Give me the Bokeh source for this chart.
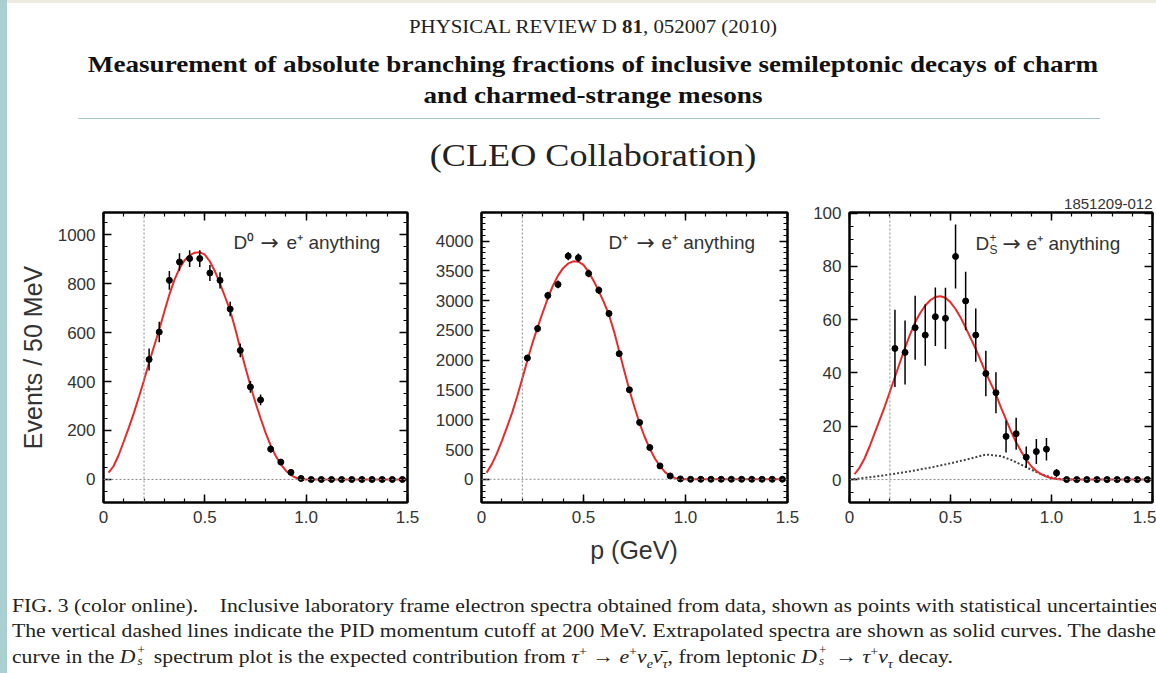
from bokeh.plotting import figure
from bokeh.models import (Range1d, SingleIntervalTicker, LinearAxis, Span, Label, Div,
                          CustomJSTickFormatter)
from bokeh.layouts import row, column
from bokeh.embed import file_html
from bokeh.resources import INLINE

# ---------------- data ----------------
P_BINS = [0.225, 0.275, 0.325, 0.375, 0.425, 0.475, 0.525, 0.575, 0.625, 0.675,
          0.725, 0.775, 0.825, 0.875, 0.925, 0.975, 1.025, 1.075, 1.125, 1.175,
          1.225, 1.275, 1.325, 1.375, 1.425, 1.475]

D0_COUNTS = [490, 602, 813, 888, 902, 902, 843, 813, 696, 527, 378, 325, 124, 71, 29, 4,
             0, 0, 0, 0, 0, 0, 0, 0, 0, 0]
D0_ERRORS = [45, 42, 38, 36, 34, 34, 33, 33, 30, 28, 24, 22, 15, 12, 8, 4,
             2, 2, 2, 2, 2, 2, 2, 2, 2, 2]

DP_COUNTS = [2036, 2530, 3086, 3271, 3748, 3720, 3456, 3175, 2783, 2109, 1503, 954, 533, 224, 56, 6,
             0, 0, 0, 0, 0, 0, 0, 0, 0, 0]
DP_ERRORS = [55, 60, 65, 65, 70, 70, 65, 62, 58, 52, 45, 38, 30, 22, 12, 5,
             2, 2, 2, 2, 2, 2, 2, 2, 2, 2]

DS_COUNTS = [49.2, 47.7, 57.0, 54.2, 61.1, 60.5, 83.7, 67.0, 54.2, 39.8, 32.6, 16.2, 17.2, 8.4, 10.5, 11.4,
             2.5, 0, 0, 0, 0, 0, 0, 0, 0, 0]
DS_ERRORS = [14.5, 12.0, 12.0, 11.5, 11.0, 11.5, 12.0, 11.0, 10.0, 8.5, 7.7, 6.0, 6.0, 4.0, 4.7, 4.2,
             1.5, 0.2, 0.2, 0.2, 0.2, 0.2, 0.2, 0.2, 0.2, 0.2]

CURVE_P = [0.025, 0.05, 0.075, 0.1, 0.125, 0.15, 0.175, 0.2, 0.225, 0.25, 0.275, 0.3, 0.325,
           0.35, 0.375, 0.4, 0.425, 0.45, 0.475, 0.5, 0.525, 0.55, 0.575, 0.6, 0.625, 0.65,
           0.675, 0.7, 0.725, 0.75, 0.775, 0.8, 0.825, 0.85, 0.875, 0.9, 0.925, 0.95, 0.975,
           1.0, 1.025, 1.05, 1.5]
D0_CURVE = [28, 55, 100, 155, 212, 272, 338, 405, 478, 545, 612, 685, 755, 815, 862, 895, 915,
            926, 928, 918, 890, 850, 800, 745, 690, 615, 535, 458, 383, 313, 250, 190, 138, 96,
            62, 36, 18, 7, 2, 0, 0, 0, 0]
DP_CURVE = [110, 250, 430, 645, 875, 1115, 1395, 1690, 2000, 2290, 2550, 2800, 3040, 3250, 3420,
            3545, 3625, 3660, 3655, 3600, 3480, 3330, 3160, 2970, 2760, 2480, 2150, 1820, 1500,
            1210, 940, 710, 515, 350, 220, 120, 55, 18, 4, 0, 0, 0, 0]
DS_CURVE = [2, 4.5, 8, 12.5, 17.5, 22.5, 27.5, 33, 38.5, 44, 49.5, 54.5, 59, 62.5, 65.3, 67.3,
            68.5, 68.8, 68.2, 66.5, 64, 60.8, 57, 53, 49, 44.5, 40, 36, 32, 27, 22.5, 18, 14,
            10.5, 7.5, 5, 3.2, 2, 1.1, 0.5, 0.2, 0, 0]

TAU_P = [0.0, 0.1, 0.2, 0.3, 0.4, 0.5, 0.6, 0.675, 0.75, 0.8, 0.85, 0.9, 0.95, 1.0, 1.05, 1.1]
TAU_CURVE = [0, 0.9, 1.9, 3.1, 4.5, 6.1, 7.9, 9.4, 8.8, 7.4, 5.6, 3.7, 2.0, 0.8, 0.15, 0]

PID_CUTOFF = 0.2
X_TICK_LABELS = ["0", "0.5", "1.0", "1.5"]

HEADER_JOURNAL = 'PHYSICAL REVIEW D <b>81</b>, 052007 (2010)'
HEADER_TITLE_1 = "Measurement of absolute branching fractions of inclusive semileptonic decays of charm"
HEADER_TITLE_2 = "and charmed-strange mesons"
HEADER_COLLAB = "(CLEO Collaboration)"
FIG_ID = "1851209-012"
Y_LABEL = "Events / 50 MeV"
X_LABEL = "p (GeV)"
ARROW = "→"
DECAY_SUFFIX = "e⁺ anything"

SANS = "Liberation Sans"
SERIF = "Liberation Serif"
TXT = "#333333"
STRETCH = "transform:scaleX(1.13);"


def make_panel(width, left, right, yrange, yint, yminor):
    p = figure(width=width, height=353, x_range=Range1d(0, 1.5), y_range=Range1d(*yrange),
               output_backend="svg", toolbar_location=None,
               min_border_left=left, min_border_right=right, min_border_top=30, min_border_bottom=33)
    p.xgrid.visible = False
    p.ygrid.visible = False
    p.outline_line_color = "black"
    p.outline_line_width = 2
    p.background_fill_color = "white"
    p.border_fill_color = "white"
    xb = p.below[0]
    yl = p.left[0]
    xt = SingleIntervalTicker(interval=0.5, num_minor_ticks=5)
    yt = SingleIntervalTicker(interval=yint, num_minor_ticks=yminor)
    xb.ticker = xt
    yl.ticker = yt
    xb.formatter = CustomJSTickFormatter(
        args=dict(labels=X_TICK_LABELS),
        code="return labels[Math.round(tick / 0.5)];")
    blank = CustomJSTickFormatter(code="return '';")
    top = LinearAxis(ticker=xt, formatter=blank)
    rgt = LinearAxis(ticker=yt, formatter=blank)
    p.add_layout(top, "above")
    p.add_layout(rgt, "right")
    for ax in (xb, yl, top, rgt):
        ax.axis_line_color = "black"
        ax.axis_line_width = 2
        ax.major_tick_in = 8
        ax.major_tick_out = 0
        ax.minor_tick_in = 4
        ax.minor_tick_out = 0
        ax.major_tick_line_color = "black"
        ax.major_tick_line_width = 1.5
        ax.minor_tick_line_color = "black"
        ax.minor_tick_line_width = 1.2
        ax.major_label_text_font = SANS
        ax.major_label_text_font_size = "17px"
        ax.major_label_text_color = TXT
    for ax in (top, rgt):
        ax.major_label_text_font_size = "2px"
        ax.major_label_standoff = 0
    xb.major_label_standoff = 8
    yl.major_label_standoff = 8
    p.add_layout(Span(location=0, dimension="width", line_color="#8a8a8a",
                      line_dash="2 2", line_width=1))
    p.add_layout(Span(location=PID_CUTOFF, dimension="height", line_color="#8a8a8a",
                      line_dash="2 2", line_width=1))
    return p


def add_data(p, counts, errors, curve):
    p.line(CURVE_P, curve, line_color="#ea2a2a", line_width=2)
    lo = [c - e for c, e in zip(counts, errors)]
    hi = [c + e for c, e in zip(counts, errors)]
    p.segment(P_BINS, lo, P_BINS, hi, line_color="black", line_width=1.5)
    p.scatter(P_BINS, counts, size=6, fill_color="black", line_color="black")


def add_decay_label(p, x, y, arrow_dx, suffix_dx):
    p.add_layout(Label(x=x, y=y, x_offset=arrow_dx, text=ARROW, text_font="DejaVu Sans",
                       text_font_size="22px", text_color=TXT, text_baseline="middle"))
    p.add_layout(Label(x=x, y=y, x_offset=suffix_dx, text=DECAY_SUFFIX, **lab))


lab = dict(text_font=SANS, text_font_size="19px", text_color=TXT, text_baseline="middle")

f1 = make_panel(423, 96, 23, (-94, 1090), 200, 4)
add_data(f1, D0_COUNTS, D0_ERRORS, D0_CURVE)
ylab = f1.left[0]
ylab.axis_label = Y_LABEL
ylab.axis_label_text_font = SANS
ylab.axis_label_text_font_size = "25px"
ylab.axis_label_text_font_style = "normal"
ylab.axis_label_text_color = TXT
ylab.axis_label_standoff = 8
f1.add_layout(Label(x=0.642, y=967, text="D⁰", **lab))
add_decay_label(f1, 0.642, 967, 27, 53)

f2 = make_panel(370, 51, 13, (-390, 4480), 500, 5)
add_data(f2, DP_COUNTS, DP_ERRORS, DP_CURVE)
f2.add_layout(Label(x=0.622, y=3983, text="D⁺", **lab))
add_decay_label(f2, 0.622, 3983, 28, 53)

f3 = make_panel(356, 49, 4, (-8.6, 100.2), 20, 4)
f3.line(TAU_P, TAU_CURVE, line_color="#444444", line_width=2, line_dash="2 2")
add_data(f3, DS_COUNTS, DS_ERRORS, DS_CURVE)
f3.add_layout(Label(x=0.624, y=88.7, text="D", **lab))
f3.add_layout(Label(x=0.624, y=88.7, x_offset=14, y_offset=6, text="+",
                    text_font=SANS, text_font_size="12px", text_color=TXT, text_baseline="middle"))
f3.add_layout(Label(x=0.624, y=88.7, x_offset=14, y_offset=-7, text="S",
                    text_font=SANS, text_font_size="12px", text_color=TXT, text_baseline="middle"))
add_decay_label(f3, 0.624, 88.7, 27, 51)
f3.title.text = FIG_ID
f3.title.align = "right"
f3.title.text_font = SANS
f3.title.text_font_size = "15px"
f3.title.text_font_style = "normal"
f3.title.text_color = TXT
f3.title.standoff = 8
f3.title.offset = 0

center_style = ("position:absolute;left:0;width:1172px;text-align:center;white-space:nowrap;"
                f"transform-origin:586px 50%;{STRETCH}")
header_html = f"""
<div style="position:relative;width:1149px;height:182px;overflow:hidden;background:white;">
 <div style="position:absolute;left:0;top:0;width:1149px;height:3px;background:#efeadf;"></div>
 <div style="{center_style}top:17px;font-family:'{SERIF}';font-size:18.5px;line-height:20px;color:#222;">{HEADER_JOURNAL}</div>
 <div style="{center_style}top:50px;font-family:'{SERIF}';font-weight:bold;font-size:24px;line-height:28px;color:#111;">{HEADER_TITLE_1}</div>
 <div style="{center_style}top:81px;font-family:'{SERIF}';font-weight:bold;font-size:24px;line-height:28px;color:#111;">{HEADER_TITLE_2}</div>
 <div style="position:absolute;left:71px;width:1022px;top:118px;height:1px;background:#a8c6c6;"></div>
 <div style="{center_style}top:137px;font-family:'{SERIF}';font-size:32px;line-height:36px;color:#222;">{HEADER_COLLAB}</div>
</div>
"""

DS_HTML = ('<i>D</i><span style="position:relative;display:inline-block;width:0.5em;height:0.7em;margin-left:0.1em;">'
           '<span style="position:absolute;left:0;top:-0.42em;font-size:0.6em;line-height:1;">+</span>'
           '<span style="position:absolute;left:0;top:0.55em;font-size:0.6em;line-height:1;"><i>s</i></span></span>')
SUP = '<sup style="line-height:0;font-size:0.65em;">{}</sup>'
SUB = '<sub style="line-height:0;font-size:0.65em;">{}</sub>'
CAPTION_1 = ("FIG. 3 (color online).&nbsp;&nbsp;&nbsp; Inclusive laboratory frame electron spectra "
             "obtained from data, shown as points with statistical uncertainties.")
CAPTION_2 = ("The vertical dashed lines indicate the PID momentum cutoff at 200 MeV. Extrapolated "
             "spectra are shown as solid curves. The dashed")
CAPTION_3 = (f"curve in the {DS_HTML} spectrum plot is the expected contribution from "
             f"<i>τ</i>{SUP.format('+')} → <i>e</i>{SUP.format('+')}<i>ν</i>{SUB.format('<i>e</i>')}"
             f"<i>ν̄</i>{SUB.format('<i>τ</i>')}, "
             f"from leptonic {DS_HTML} → <i>τ</i>{SUP.format('+')}<i>ν</i>{SUB.format('<i>τ</i>')} decay.")

cap_style = (f"position:absolute;left:5px;font-family:'{SERIF}';font-size:19.2px;line-height:22px;"
             f"color:#222;white-space:nowrap;transform-origin:0 50%;{STRETCH}")
footer_html = f"""
<div style="position:relative;width:1149px;height:138px;overflow:hidden;background:white;">
 <div style="position:absolute;left:0;width:1254px;top:1px;text-align:center;font-family:'{SANS}';font-size:25px;line-height:28px;color:#333;white-space:nowrap;">{X_LABEL}</div>
 <div style="{cap_style}top:60px;">{CAPTION_1}</div>
 <div style="{cap_style}top:85px;">{CAPTION_2}</div>
 <div style="{cap_style}top:111px;">{CAPTION_3}</div>
</div>
"""

header = Div(text=header_html, width=1149, height=182, margin=0)
footer = Div(text=footer_html, width=1149, height=138, margin=0)
strip = Div(text="", width=7, height=673, margin=0, styles={"background-color": "#a9cfd0"})

layout = row(strip, column(header, row(f1, f2, f3), footer))

open("out.html", "w").write(file_html(layout, INLINE))
